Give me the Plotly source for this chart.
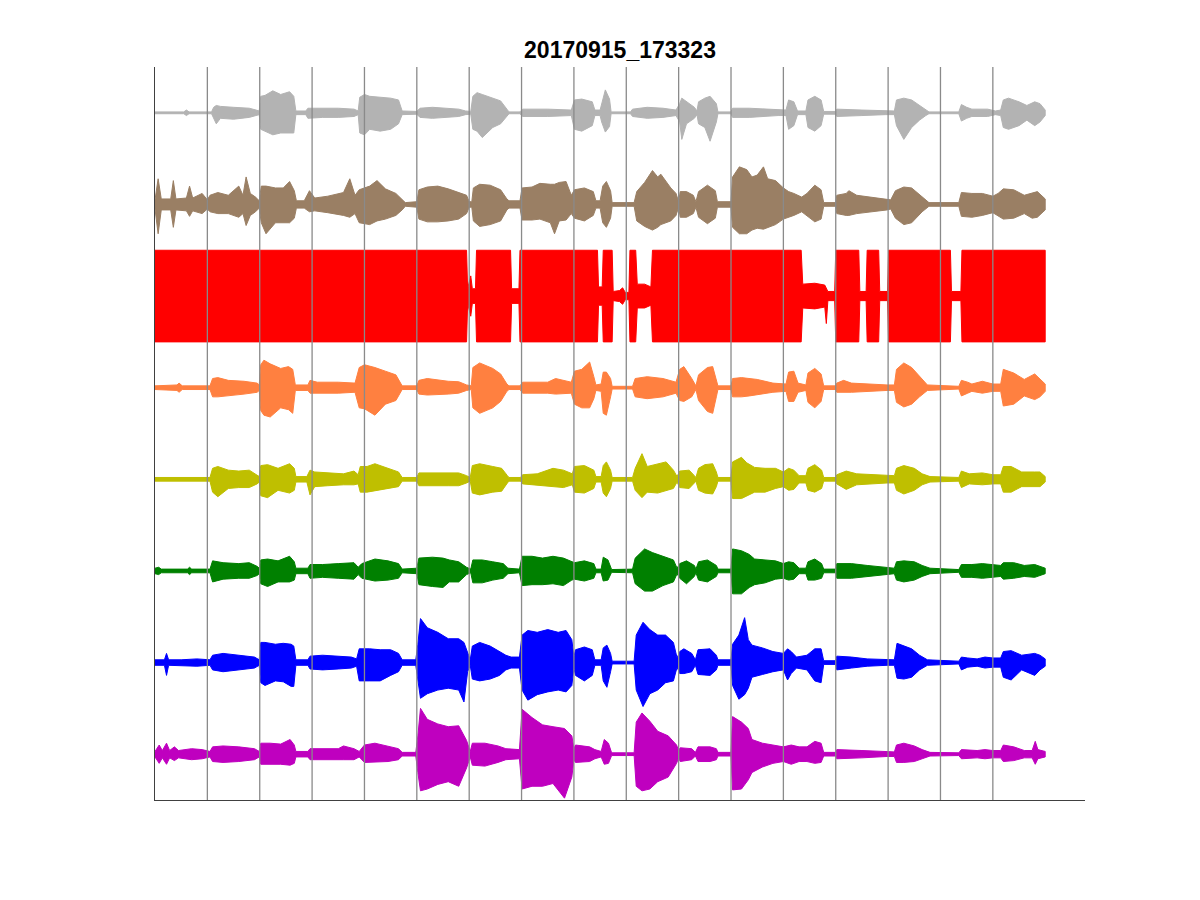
import numpy as np
import plotly.graph_objects as go

# Envelope breakpoints per channel: (time, upper extent, lower extent)
# time in grid divisions, extents in hundredths of a channel spacing
GRAY = [(0, 1, 1), (0.55, 1, 1), (0.6, 3, 3), (0.65, 1, 1), (1.08, 1, 1), (1.12, 6, 6), (1.17, 8, 12),
        (1.25, 7, 6), (1.5, 6, 7), (1.8, 5, 5), (1.93, 3, 3), (1.99, 2, 2), (2.02, 18, 18), (2.1, 19, 20),
        (2.25, 24, 24), (2.4, 20, 22), (2.57, 23, 22), (2.65, 18, 22), (2.69, 2, 2), (2.88, 2, 2),
        (2.92, 5, 6), (3.2, 5, 5), (3.5, 5, 5), (3.8, 4, 4), (3.88, 2, 2), (3.91, 17, 22), (4.0, 20, 24),
        (4.1, 18, 18), (4.3, 17, 20), (4.5, 16, 18), (4.65, 14, 12), (4.72, 2, 2), (5.0, 1.5, 1.5),
        (5.06, 5, 5), (5.3, 6, 6), (5.6, 5, 5), (5.8, 4, 4), (5.93, 2, 2), (6.03, 1.5, 1.5), (6.07, 18, 18),
        (6.15, 22, 20), (6.25, 20, 27), (6.45, 16, 16), (6.6, 13, 12), (6.72, 4, 4), (6.76, 1, 1),
        (6.97, 1, 1), (7.02, 4, 4), (7.5, 4, 4), (7.95, 3, 3), (8.01, 14, 18), (8.15, 15, 20), (8.35, 12, 14),
        (8.4, 3, 3), (8.5, 3, 3), (8.53, 10, 10), (8.6, 25, 21), (8.68, 15, 15), (8.71, 1, 1), (9.08, 1, 1),
        (9.12, 4, 4), (9.4, 6, 6), (9.7, 5, 5), (9.95, 3, 3), (10.02, 10, 10), (10.06, 16, 29), (10.15, 12, 12),
        (10.3, 6, 6), (10.35, 2, 2), (10.38, 12, 12), (10.5, 16, 16), (10.6, 18, 31), (10.72, 10, 10),
        (10.75, 1, 1), (11.0, 1, 1), (11.03, 5, 5), (11.35, 5, 5), (11.6, 4, 4), (11.9, 3, 3), (12.05, 3, 3),
        (12.1, 14, 18), (12.2, 12, 14), (12.27, 2, 2), (12.43, 2, 2), (12.47, 14, 16), (12.6, 18, 20),
        (12.72, 14, 14), (12.77, 1.5, 1.5), (13.0, 1.5, 1.5), (13.02, 4, 4), (13.5, 3, 3), (13.95, 2, 2),
        (14.12, 2, 2), (14.16, 14, 14), (14.3, 16, 29), (14.45, 14, 16), (14.6, 8, 8), (14.72, 3, 3),
        (14.78, 1, 1), (15.35, 1, 1), (15.4, 9, 9), (15.5, 6, 6), (15.6, 4, 4), (15.9, 4, 4), (16.05, 2, 2),
        (16.15, 3, 3), (16.2, 14, 16), (16.3, 16, 18), (16.5, 12, 14), (16.65, 8, 8), (16.8, 12, 14),
        (16.9, 10, 10), (17.0, 3, 3)]

BROWN = [(0, 5, 5), (0.06, 28, 32), (0.12, 6, 6), (0.3, 6, 6), (0.35, 26, 25), (0.4, 6, 6), (0.6, 7, 7),
         (0.66, 20, 13), (0.72, 7, 7), (0.9, 12, 10), (1.0, 5, 5), (1.05, 10, 8), (1.2, 13, 10), (1.4, 10, 10),
         (1.6, 20, 14), (1.68, 10, 10), (1.74, 30, 23), (1.82, 12, 12), (1.92, 8, 8), (1.99, 4, 4),
         (2.03, 20, 20), (2.12, 20, 32), (2.3, 18, 20), (2.45, 18, 20), (2.57, 25, 20), (2.66, 15, 15),
         (2.7, 4, 4), (2.85, 4, 4), (2.95, 15, 8), (3.05, 7, 7), (3.3, 9, 9), (3.6, 13, 12), (3.72, 28, 14),
         (3.82, 10, 10), (3.9, 16, 20), (4.1, 20, 22), (4.24, 26, 18), (4.4, 17, 16), (4.6, 12, 12),
         (4.72, 6, 6), (4.78, 2, 2), (5.0, 3, 3), (5.04, 16, 16), (5.2, 19, 19), (5.4, 20, 19), (5.6, 17, 18),
         (5.8, 13, 16), (5.95, 10, 10), (6.0, 3, 3), (6.05, 3, 3), (6.08, 18, 18), (6.2, 22, 24), (6.4, 21, 22),
         (6.6, 16, 18), (6.72, 6, 6), (6.76, 4, 4), (6.97, 4, 4), (7.01, 18, 17), (7.2, 19, 17), (7.35, 23, 16),
         (7.55, 22, 20), (7.63, 22, 32), (7.72, 24, 18), (7.85, 25, 17), (7.95, 10, 10), (8.01, 16, 15),
         (8.2, 18, 18), (8.37, 14, 12), (8.42, 4, 4), (8.5, 4, 4), (8.55, 20, 20), (8.62, 25, 25), (8.7, 15, 15),
         (8.73, 2, 2), (9.15, 2, 2), (9.2, 14, 18), (9.35, 24, 24), (9.5, 37, 28), (9.6, 30, 25), (9.66, 33, 22),
         (9.85, 18, 18), (9.95, 12, 12), (10.0, 3, 3), (10.03, 14, 14), (10.15, 14, 14), (10.28, 10, 10),
         (10.33, 3, 3), (10.38, 14, 14), (10.55, 21, 21), (10.7, 15, 15), (10.74, 3, 3), (11.0, 3, 3),
         (11.03, 30, 25), (11.16, 41, 32), (11.3, 38, 32), (11.4, 30, 28), (11.5, 32, 26), (11.62, 41, 27),
         (11.7, 28, 25), (11.85, 26, 22), (12.0, 18, 16), (12.1, 14, 14), (12.2, 12, 12), (12.35, 8, 8),
         (12.45, 12, 12), (12.6, 21, 19), (12.72, 16, 16), (12.77, 2, 2), (13.0, 2, 2), (13.02, 10, 10),
         (13.2, 12, 12), (13.25, 15, 12), (13.4, 10, 10), (13.7, 8, 8), (13.98, 6, 6), (14.05, 5, 5),
         (14.14, 15, 15), (14.3, 19, 22), (14.45, 18, 20), (14.65, 8, 8), (14.78, 2, 2), (15.35, 2, 2),
         (15.4, 13, 13), (15.6, 12, 14), (15.8, 12, 12), (16.0, 9, 9), (16.1, 12, 12), (16.2, 17, 16),
         (16.4, 16, 15), (16.6, 10, 10), (16.75, 12, 15), (16.85, 14, 14), (17.0, 6, 6)]

RED = [(0, 50, 50), (5.95, 50, 50), (5.97, 8, 8), (6.03, 22, 22), (6.06, 8, 8), (6.12, 8, 8), (6.14, 50, 50),
       (6.79, 50, 50), (6.81, 8, 8), (6.95, 8, 8), (6.97, 50, 50), (8.45, 50, 50), (8.47, 10, 10),
       (8.54, 10, 10), (8.56, 50, 50), (8.73, 50, 50), (8.75, 5, 5), (8.87, 6, 6), (8.93, 9, 9), (8.98, 4, 4),
       (9.05, 4, 4), (9.07, 50, 50), (9.18, 50, 50), (9.21, 13, 13), (9.35, 13, 13), (9.47, 10, 10),
       (9.5, 50, 50), (12.34, 50, 50), (12.37, 13, 13), (12.6, 14, 14), (12.79, 12, 12), (12.82, 8, 30),
       (12.85, 5, 5), (12.98, 5, 5), (13.0, 50, 50), (13.44, 50, 50), (13.46, 5, 5), (13.58, 5, 5),
       (13.6, 50, 50), (13.82, 50, 50), (13.84, 5, 5), (13.99, 5, 5), (14.01, 50, 50), (15.19, 50, 50),
       (15.21, 5, 5), (15.39, 5, 5), (15.41, 50, 50), (17.0, 50, 50)]

ORANGE = [(0, 2, 2), (0.42, 3, 3), (0.46, 5, 5), (0.52, 2, 2), (1.05, 2, 2), (1.1, 10, 10), (1.2, 11, 10),
          (1.4, 8, 9), (1.7, 7, 7), (1.95, 5, 5), (1.99, 3, 3), (2.02, 25, 25), (2.08, 30, 30), (2.2, 26, 32),
          (2.4, 21, 22), (2.55, 23, 24), (2.63, 20, 28), (2.68, 3, 3), (2.92, 3, 3), (2.96, 8, 6), (3.1, 6, 6),
          (3.5, 6, 6), (3.82, 5, 5), (3.9, 22, 22), (4.0, 25, 23), (4.2, 22, 30), (4.4, 18, 18), (4.6, 14, 14),
          (4.72, 2, 2), (5.0, 2, 2), (5.04, 8, 7), (5.2, 10, 8), (5.6, 7, 7), (5.8, 6.5, 6), (5.95, 3, 3),
          (6.04, 2, 2), (6.07, 22, 22), (6.2, 27, 28), (6.45, 21, 22), (6.6, 15, 15), (6.72, 4, 4), (6.76, 2, 2),
          (6.97, 2, 2), (7.02, 6, 6), (7.5, 6, 6), (7.65, 10, 7), (7.95, 6, 6), (8.01, 18, 18), (8.15, 20, 22),
          (8.3, 28, 22), (8.38, 12, 12), (8.42, 3, 3), (8.52, 4, 4), (8.56, 17, 28), (8.62, 17, 30),
          (8.7, 10, 10), (8.73, 1.5, 1.5), (9.12, 1.5, 1.5), (9.17, 10, 10), (9.4, 12, 12), (9.7, 10, 10),
          (9.95, 6, 6), (10.02, 20, 14), (10.1, 23, 15), (10.25, 10, 10), (10.33, 2, 2), (10.38, 14, 14),
          (10.55, 22, 26), (10.65, 23, 28), (10.72, 10, 10), (10.75, 2, 2), (11.0, 2, 2), (11.03, 10, 10),
          (11.2, 11, 10), (11.35, 10, 9), (11.5, 9, 8), (11.8, 5, 5), (12.05, 4, 4), (12.1, 17, 15),
          (12.2, 18, 15), (12.28, 5, 5), (12.43, 3, 3), (12.47, 16, 16), (12.6, 21, 22), (12.72, 15, 15),
          (12.77, 2, 2), (13.0, 2, 2), (13.02, 5, 5), (13.15, 8, 5), (13.3, 5, 5), (13.98, 3, 3), (14.12, 3, 3),
          (14.16, 20, 16), (14.3, 27, 21), (14.45, 22, 18), (14.6, 12, 10), (14.75, 3, 3), (15.35, 1.5, 1.5),
          (15.4, 8, 9), (15.52, 6, 6), (15.6, 4, 4), (15.8, 7, 6), (16.0, 4, 4), (16.15, 4, 4), (16.2, 20, 20),
          (16.4, 16, 18), (16.6, 9, 9), (16.8, 15, 13), (16.9, 10, 10), (17.0, 4, 4)]

YELLOW = [(0, 2, 2), (1.05, 2, 2), (1.1, 12, 14), (1.2, 14, 19), (1.4, 10, 10), (1.6, 9, 9), (1.8, 10, 9),
          (1.95, 5, 5), (1.99, 3, 3), (2.02, 15, 18), (2.15, 16, 20), (2.35, 12, 12), (2.57, 17, 15),
          (2.66, 12, 12), (2.69, 3, 3), (2.9, 3, 3), (2.96, 10, 17), (3.05, 8, 8), (3.3, 7, 7), (3.6, 6, 6),
          (3.8, 9, 6), (3.88, 5, 5), (3.92, 14, 14), (4.05, 14, 14), (4.2, 17, 12), (4.45, 12, 10), (4.65, 8, 8),
          (4.72, 2, 2), (5.0, 2, 2), (5.04, 7, 7), (5.6, 7, 7), (5.8, 7, 7), (5.95, 4, 4), (6.02, 2, 2),
          (6.06, 15, 15), (6.2, 17, 17), (6.45, 14, 14), (6.62, 12, 13), (6.73, 4, 4), (6.76, 2, 2),
          (6.98, 2, 2), (7.02, 5, 5), (7.3, 6, 6), (7.6, 12, 8), (7.8, 10, 9), (7.97, 6, 6), (8.01, 14, 14),
          (8.2, 15, 15), (8.38, 10, 10), (8.42, 3, 3), (8.52, 3, 3), (8.56, 15, 15), (8.62, 19, 19),
          (8.7, 10, 10), (8.73, 2, 2), (9.12, 2, 2), (9.17, 12, 12), (9.3, 28, 20), (9.4, 14, 14),
          (9.6, 17, 15), (9.76, 19, 12), (9.9, 10, 10), (9.97, 3, 3), (10.02, 9, 9), (10.2, 10, 10),
          (10.3, 4, 4), (10.33, 2, 2), (10.38, 12, 12), (10.5, 16, 15), (10.65, 17, 16), (10.72, 8, 8),
          (10.75, 2, 2), (11.0, 2, 2), (11.03, 19, 21), (11.2, 24, 21), (11.3, 18, 18), (11.45, 13, 14),
          (11.65, 12, 14), (11.85, 12, 10), (12.0, 8, 8), (12.1, 12, 12), (12.2, 10, 11), (12.3, 4, 4),
          (12.43, 4, 4), (12.47, 12, 12), (12.6, 16, 14), (12.73, 10, 10), (12.77, 2, 2), (13.0, 2, 2),
          (13.02, 5, 5), (13.2, 9, 11), (13.4, 6, 6), (13.98, 4, 4), (14.12, 4, 4), (14.16, 12, 12),
          (14.3, 15, 16), (14.5, 12, 12), (14.65, 6, 6), (14.8, 3, 3), (15.35, 2, 2), (15.4, 9, 9),
          (15.55, 6, 5), (15.8, 7, 6), (16.0, 5, 5), (16.15, 5, 5), (16.2, 14, 14), (16.35, 14, 14),
          (16.55, 8, 8), (16.8, 8, 8), (16.9, 8, 8), (17.0, 3, 3)]

GREEN = [(0, 3, 3), (0.07, 4, 4), (0.12, 2, 2), (0.62, 2, 2), (0.66, 4, 4), (0.7, 2, 2), (1.05, 2, 2),
         (1.1, 11, 12), (1.3, 9, 9), (1.6, 8, 8), (1.8, 9, 8), (1.95, 5, 5), (1.99, 3, 3), (2.02, 12, 14),
         (2.15, 13, 17), (2.35, 11, 12), (2.57, 16, 12), (2.66, 10, 10), (2.69, 3, 3), (2.92, 3, 3),
         (2.96, 7, 8), (3.2, 7, 7), (3.5, 8, 8), (3.8, 9, 9), (3.88, 4, 4), (3.95, 8, 8), (4.2, 13, 11),
         (4.45, 11, 10), (4.65, 8, 8), (4.72, 2, 2), (5.0, 3, 3), (5.04, 14, 15), (5.3, 15, 17), (5.5, 14, 18),
         (5.62, 12, 12), (5.8, 10, 12), (5.95, 4, 4), (6.03, 2, 2), (6.07, 12, 13), (6.25, 12, 13),
         (6.45, 10, 10), (6.65, 8, 8), (6.74, 3, 3), (6.96, 2, 2), (7.01, 16, 16), (7.2, 16, 15),
         (7.4, 14, 15), (7.6, 16, 14), (7.8, 14, 16), (7.96, 10, 10), (8.01, 9, 9), (8.2, 11, 11), (8.38, 8, 8),
         (8.42, 2, 2), (8.52, 2, 2), (8.56, 15, 11), (8.65, 12, 10), (8.72, 1.5, 1.5), (9.12, 2, 2),
         (9.17, 14, 14), (9.35, 24, 22), (9.5, 20, 22), (9.7, 16, 16), (9.9, 12, 12), (9.97, 3, 3),
         (10.02, 8, 8), (10.15, 11, 14), (10.3, 6, 6), (10.33, 2, 2), (10.38, 10, 10), (10.55, 12, 12),
         (10.72, 6, 6), (10.75, 2, 2), (11.0, 2, 2), (11.03, 24, 25), (11.2, 22, 25), (11.35, 18, 18),
         (11.45, 13, 15), (11.65, 12, 13), (11.85, 11, 9), (12.0, 8, 8), (12.1, 10, 10), (12.2, 9, 9),
         (12.3, 3, 3), (12.43, 3, 3), (12.47, 10, 10), (12.6, 13, 10), (12.73, 8, 8), (12.77, 2, 2),
         (13.0, 2, 2), (13.02, 8, 8), (13.3, 8, 8), (13.6, 6, 6), (13.98, 4, 4), (14.12, 3, 3), (14.16, 10, 10),
         (14.3, 11, 12), (14.5, 10, 10), (14.65, 6, 6), (14.8, 3, 3), (15.35, 1.5, 1.5), (15.4, 7, 7),
         (15.6, 7, 7), (15.8, 8, 8), (16.0, 7, 7), (16.15, 6, 6), (16.2, 9, 9), (16.4, 9, 8), (16.6, 6, 6),
         (16.8, 7, 7), (17.0, 3, 3)]

BLUE = [(0, 3, 3), (0.18, 3, 3), (0.22, 10, 14), (0.26, 3, 3), (0.5, 3, 3), (0.8, 4, 4), (1.05, 3, 3),
        (1.1, 8, 8), (1.3, 10, 10), (1.6, 8, 8), (1.9, 6, 6), (1.99, 3, 3), (2.02, 22, 22), (2.1, 22, 25),
        (2.3, 20, 20), (2.45, 21, 21), (2.6, 20, 26), (2.65, 18, 26), (2.69, 3, 3), (2.92, 3, 3), (2.96, 7, 7),
        (3.2, 8, 8), (3.5, 7, 7), (3.75, 6, 6), (3.85, 4, 4), (3.9, 15, 20), (4.1, 15, 20), (4.3, 14, 20),
        (4.5, 14, 14), (4.65, 10, 10), (4.72, 3, 3), (4.98, 3, 3), (5.02, 20, 20), (5.07, 48, 39),
        (5.2, 38, 34), (5.4, 33, 30), (5.6, 26, 28), (5.8, 26, 30), (5.9, 22, 43), (5.97, 10, 10),
        (6.02, 3, 3), (6.06, 18, 18), (6.2, 22, 20), (6.4, 18, 18), (6.58, 12, 14), (6.7, 8, 8), (6.8, 6, 6),
        (6.96, 6, 6), (7.01, 30, 30), (7.12, 35, 41), (7.3, 33, 35), (7.5, 36, 32), (7.7, 33, 30),
        (7.85, 35, 32), (7.96, 25, 25), (8.0, 6, 6), (8.03, 14, 14), (8.2, 17, 20), (8.35, 14, 14),
        (8.4, 3, 3), (8.52, 3, 3), (8.56, 16, 20), (8.63, 19, 27), (8.7, 10, 10), (8.73, 1.5, 1.5),
        (9.15, 1.5, 1.5), (9.19, 30, 30), (9.32, 44, 48), (9.45, 36, 34), (9.6, 30, 30), (9.75, 30, 22),
        (9.9, 22, 20), (9.97, 5, 5), (10.02, 12, 12), (10.1, 15, 12), (10.25, 10, 10), (10.32, 3, 3),
        (10.37, 14, 13), (10.6, 15, 14), (10.72, 8, 8), (10.75, 3, 3), (11.0, 3, 3), (11.03, 20, 25),
        (11.15, 30, 40), (11.26, 49, 35), (11.33, 25, 28), (11.4, 19, 16), (11.6, 16, 13), (11.8, 12, 10),
        (12.0, 10, 8), (12.08, 15, 19), (12.15, 12, 12), (12.25, 6, 6), (12.45, 8, 8), (12.6, 15, 20),
        (12.72, 15, 22), (12.77, 2, 2), (13.0, 2, 2), (13.02, 7, 8), (13.3, 6, 6), (13.6, 4, 4),
        (13.98, 3, 3), (14.12, 3, 3), (14.17, 21, 17), (14.3, 18, 18), (14.45, 15, 16), (14.6, 8, 8),
        (14.75, 3, 3), (15.35, 1.5, 1.5), (15.4, 6, 8), (15.52, 5, 5), (15.7, 4, 4), (15.85, 6, 6),
        (16.0, 5, 5), (16.15, 5, 5), (16.2, 12, 16), (16.35, 13, 19), (16.55, 8, 8), (16.8, 10, 14),
        (16.9, 8, 8), (17.0, 4, 4)]

MAGENTA = [(0, 3, 3), (0.08, 10, 10), (0.14, 4, 4), (0.22, 12, 11), (0.28, 4, 4), (0.37, 8, 7), (0.45, 4, 4),
           (0.7, 6, 6), (0.9, 5, 5), (1.05, 3, 3), (1.1, 8, 8), (1.3, 9, 9), (1.6, 8, 8), (1.9, 6, 6),
           (1.99, 3, 3), (2.02, 12, 11), (2.2, 12, 11), (2.4, 11, 11), (2.58, 16, 12), (2.66, 10, 10),
           (2.69, 3, 3), (2.92, 3, 3), (2.96, 6, 6), (3.5, 6, 6), (3.6, 9, 6), (3.8, 6, 6), (3.9, 3, 3),
           (4.0, 10, 9), (4.2, 12, 9), (4.45, 9, 8), (4.65, 6, 6), (4.72, 2, 2), (4.98, 2, 2), (5.02, 20, 20),
           (5.07, 50, 40), (5.2, 38, 38), (5.4, 33, 33), (5.6, 30, 30), (5.8, 31, 35), (5.95, 15, 15),
           (6.02, 3, 3), (6.06, 12, 12), (6.3, 12, 13), (6.55, 9, 9), (6.7, 6, 6), (6.96, 5, 5),
           (7.01, 49, 38), (7.2, 40, 35), (7.4, 32, 35), (7.6, 30, 32), (7.82, 28, 48), (7.96, 20, 25),
           (8.0, 6, 6), (8.03, 10, 9), (8.3, 8, 8), (8.4, 5, 5), (8.52, 3, 3), (8.58, 16, 11), (8.66, 12, 10),
           (8.72, 1.5, 1.5), (9.15, 1.5, 1.5), (9.19, 35, 35), (9.3, 45, 40), (9.45, 36, 38), (9.6, 25, 30),
           (9.8, 20, 25), (9.96, 10, 10), (10.0, 4, 4), (10.03, 7, 8), (10.25, 6, 6), (10.32, 2, 2),
           (10.37, 8, 8), (10.6, 8, 8), (10.72, 6, 6), (10.75, 2, 2), (11.0, 2, 2), (11.03, 41, 39),
           (11.2, 35, 38), (11.33, 28, 28), (11.4, 16, 20), (11.6, 12, 14), (11.8, 10, 10), (12.0, 8, 8),
           (12.15, 10, 11), (12.3, 8, 8), (12.45, 8, 8), (12.6, 14, 10), (12.72, 12, 9), (12.77, 2, 2),
           (13.0, 2, 2), (13.02, 5, 5), (13.5, 4, 4), (13.98, 2.5, 2.5), (14.12, 2.5, 2.5), (14.16, 10, 9),
           (14.3, 12, 9), (14.5, 9, 8), (14.65, 5, 5), (14.8, 2, 2), (15.35, 1.5, 1.5), (15.4, 5, 5),
           (15.7, 4, 4), (15.85, 5, 5), (16.0, 4, 4), (16.15, 4, 4), (16.2, 10, 8), (16.4, 8, 7), (16.6, 4, 4),
           (16.75, 4, 4), (16.81, 14, 11), (16.86, 5, 5), (17.0, 3, 3)]

# channel data, offset on the y axis, colour
CHANNELS = [
    (GRAY, 8, "#b3b3b3"),
    (BROWN, 7, "#9a7f64"),
    (RED, 6, "#ff0000"),
    (ORANGE, 5, "#ff8040"),
    (YELLOW, 4, "#bfbf00"),
    (GREEN, 3, "#008000"),
    (BLUE, 2, "#0000ff"),
    (MAGENTA, 1, "#bf00bf"),
]

GRID_X = list(range(1, 17))
X_RANGE = [0, 17.76]
Y_RANGE = [0.5, 8.5]
TITLE = "20170915_173323"

fig = go.Figure()
for data, off, col in CHANNELS:
    arr = np.array(data, dtype=float)
    tt, up, dn = arr[:, 0], arr[:, 1] / 100.0, arr[:, 2] / 100.0
    xs = np.concatenate([tt, tt[::-1]])
    ys = np.concatenate([off + up, (off - dn)[::-1]])
    fig.add_trace(go.Scatter(x=xs, y=ys, mode="lines", fill="toself",
                             fillcolor=col, line=dict(color=col, width=1),
                             showlegend=False, hoverinfo="skip"))

for gx in GRID_X:
    fig.add_shape(type="line", x0=gx, x1=gx, y0=Y_RANGE[0], y1=Y_RANGE[1],
                  xref="x", yref="y", layer="above",
                  line=dict(color="#8a8a8a", width=1.3))

fig.update_layout(
    width=1184, height=884,
    margin=dict(l=147, r=107, t=59, b=92),
    paper_bgcolor="white", plot_bgcolor="white",
    title=dict(text="<b>" + TITLE + "</b>", x=0.5, xref="paper", xanchor="center",
               y=1 - 42 / 884, yref="container", yanchor="middle",
               font=dict(family="Liberation Sans, Arial, sans-serif", size=23, color="#000000")),
    showlegend=False,
)
fig.update_xaxes(range=X_RANGE, showgrid=False, zeroline=False, showticklabels=False,
                 ticks="", showline=True, linecolor="#404040", linewidth=1.3)
fig.update_yaxes(range=Y_RANGE, showgrid=False, zeroline=False, showticklabels=False,
                 ticks="", showline=True, linecolor="#404040", linewidth=1.3)

fig.write_html("out.html")
